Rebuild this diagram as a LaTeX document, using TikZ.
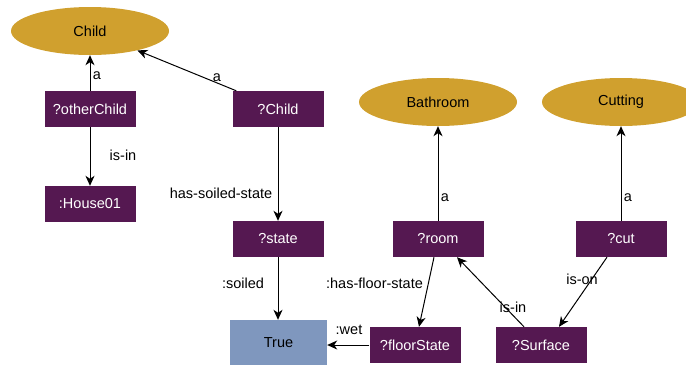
\documentclass[tikz,border=0pt]{standalone}
\usepackage{fontspec}
\setmainfont{Liberation Sans}
\usetikzlibrary{arrows.meta,shapes.geometric}
\definecolor{gold}{RGB}{208,160,46}
\definecolor{plum}{RGB}{85,24,81}
\definecolor{steel}{RGB}{127,151,190}
\begin{document}
\begin{tikzpicture}[x=1pt,y=-1pt,font=\fontsize{14.5}{17}\selectfont,
  cls/.style={ellipse,fill=gold,minimum width=158pt,minimum height=48pt,inner sep=0pt},
  var/.style={rectangle,fill=plum,text=white,minimum width=91pt,minimum height=36pt,inner sep=0pt},
  lit/.style={rectangle,fill=steel,minimum width=97pt,minimum height=45pt,inner sep=0pt},
  rel/.style={draw=black,line width=1pt,-{Stealth[length=10pt,width=9pt,inset=3pt]}},
  lbl/.style={inner sep=0pt,text=black}]
\useasboundingbox (0,0) rectangle (686,365);
\clip (0,0) rectangle (686,365);
% class nodes
\node[cls] (child) at (90,31) {Child};
\node[cls] (bath) at (438,102) {Bathroom};
\node[cls] (cutting) at (621,102) {Cutting};
% variable nodes
\node[var] (other) at (90,109) {?otherChild};
\node[var] (qchild) at (278,109) {?Child};
\node[var] (house) at (90,204) {:House01};
\node[var] (state) at (278,239) {?state};
\node[var] (room) at (438,239) {?room};
\node[var] (cut) at (621,239) {?cut};
\node[var] (floor) at (415,345) {?floorState};
\node[var] (surface) at (541,345) {?Surface};
\node[lit] (true) at (278.5,342.5) {True};
% connectors
\draw[rel] (other.north) -- (child.south);
\draw[rel] ([xshift=4pt]qchild.north west) -- (child);
\draw[rel] (other.south) -- (house.north);
\draw[rel] (qchild.south) -- (state.north);
\draw[rel] (state.south) -- (true.north -| state.south);
\draw[rel] (room.north) -- (bath.south);
\draw[rel] (cut.north) -- (cutting.south);
\draw[rel] ([xshift=-4pt]room.south) -- ([xshift=4pt]floor.north);
\draw[rel] ([xshift=-17pt]surface.north) -- ([xshift=19pt]room.south);
\draw[rel] ([xshift=-14pt]cut.south) -- ([xshift=18pt]surface.north);
\draw[rel] (floor.west) -- (floor.west -| true.east);
% labels
\node[lbl] (l1) at (97,76) {a};
\node[lbl] (l2) at (217,78) {a};
\node[lbl] (l3) at (123,155) {is-in};
\node[lbl] (l4) at (221,193) {has-soiled-state};
\node[lbl] (l5) at (243,283) {:soiled};
\node[lbl] (l6) at (445,198) {a};
\node[lbl] (l7) at (628,198) {a};
\node[lbl] (l8) at (374.5,283) {:has-floor-state};
\node[lbl] (l9) at (513,307) {is-in};
\node[lbl] (l10) at (582,279) {is-on};
\node[lbl] (l11) at (349,330) {:wet};
\end{tikzpicture}
\end{document}
